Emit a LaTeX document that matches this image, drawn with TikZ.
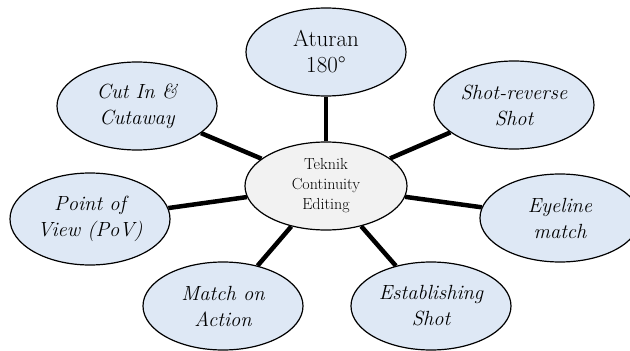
\documentclass[tikz,border=0pt]{standalone}
\usetikzlibrary{shapes.geometric,backgrounds}
\definecolor{bubbleBlue}{HTML}{DEE8F5}
\definecolor{hubGray}{HTML}{F2F2F2}

\begin{document}
\begin{tikzpicture}[x=1pt,y=-1pt,
  bubble/.style={ellipse,draw=black,line width=1.2pt,fill=bubbleBlue,
    minimum width=160pt,minimum height=88pt,inner sep=0pt,align=center,
    font=\fontsize{20.5}{26}\selectfont\itshape},
  hub/.style={bubble,fill=hubGray,minimum width=162pt,
    font=\fontsize{16}{20}\selectfont},
  spoke/.style={line width=4.5pt}]
\def\w{630}
\def\h{351}
\useasboundingbox (0,0) rectangle (\w,\h);
% centre
\node[hub] (hub) at (326,186) {Teknik\\Continuity\\Editing};
% ring of techniques
\node[bubble,font=\fontsize{23}{26}\selectfont] (aturan) at (326,52) {Aturan\\180\textdegree};
\node[bubble] (cutin) at (137,106) {Cut In \&\\Cutaway};
\node[bubble] (shotrev) at (514,105) {Shot-reverse\\Shot};
\node[bubble,minimum height=92pt] (pov) at (90,219) {Point of\\View (PoV)};
\node[bubble] (eyeline) at (560,218) {Eyeline\\match};
\node[bubble] (match) at (223,306) {Match on\\Action};
\node[bubble] (establish) at (431,306) {Establishing\\Shot};
% spokes
\begin{scope}[on background layer]
\draw[spoke] (hub) -- (aturan);
\draw[spoke] (hub) -- (cutin);
\draw[spoke] (hub) -- (shotrev);
\draw[spoke] (hub) -- (pov);
\draw[spoke] (hub) -- (eyeline);
\draw[spoke] (hub) -- (match);
\draw[spoke] (hub) -- (establish);
\end{scope}
\end{tikzpicture}
\end{document}
